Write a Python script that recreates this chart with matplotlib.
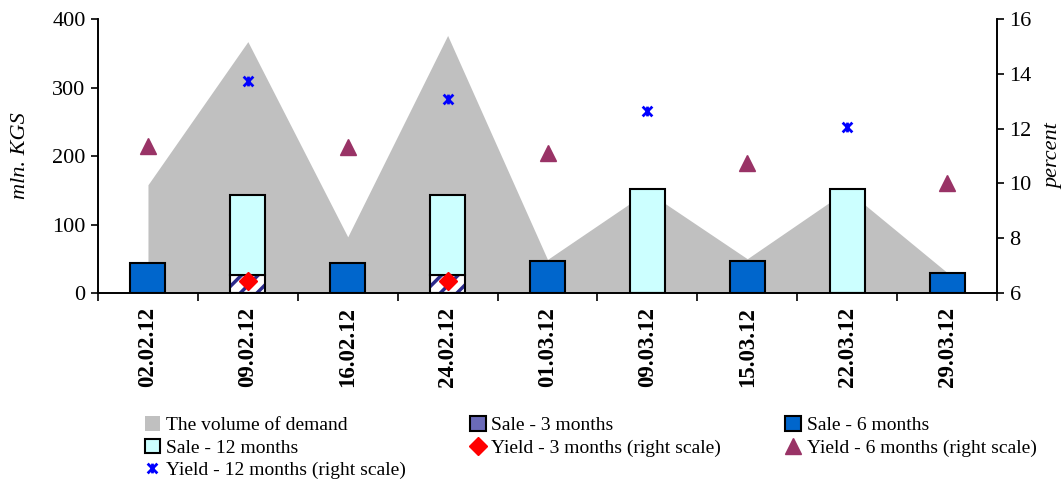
import numpy as np
import matplotlib
matplotlib.use("Agg")
import matplotlib.pyplot as plt
from matplotlib.patches import Patch
from matplotlib.lines import Line2D
from matplotlib.path import Path

plt.rcParams['font.family'] = ['Liberation Serif', 'DejaVu Serif']
plt.rcParams['hatch.linewidth'] = 2.5

dates = ["02.02.12", "09.02.12", "16.02.12", "24.02.12", "01.03.12",
         "09.03.12", "15.03.12", "22.03.12", "29.03.12"]
demand = [158, 367, 82, 376, 49, 148, 50, 150, 30]
sale_3m = [0, 26, 0, 26, 0, 0, 0, 0, 0]
sale_6m = [44, 0, 44, 0, 47, 0, 47, 0, 29]
sale_12m = [0, 117, 0, 117, 0, 152, 0, 152, 0]
yield_3m = [np.nan, 6.45, np.nan, 6.45, np.nan, np.nan, np.nan, np.nan, np.nan]
yield_6m = [11.38, np.nan, 11.33, np.nan, 11.1, np.nan, 10.73, np.nan, 10.0]
yield_12m = [np.nan, 13.74, np.nan, 13.08, np.nan, 12.64, np.nan, 12.06, np.nan]

x = np.arange(len(dates))
w = 0.35
c_demand = '#C0C0C0'
c_6m = '#0066CC'
c_12m = '#CCFFFF'
c_y6 = '#993366'
c_3m_hatch = '#2B2B8C'

star = Path([(-1, -1), (1, 1), (-1, 1), (1, -1), (0, -1), (0, 1)],
            [Path.MOVETO, Path.LINETO, Path.MOVETO, Path.LINETO, Path.MOVETO, Path.LINETO])

fig = plt.figure(figsize=(10.62, 4.79), dpi=100)
ax = fig.add_axes([0.0923, 0.3883, 0.8465, 0.572])
ax2 = ax.twinx()

# demand area
ax.fill_between(x, demand, 0, color=c_demand, lw=0, zorder=1)

# 3-month sales: hatched fill with outline
s3 = np.array(sale_3m, dtype=float)
ax.bar(x, s3, w, color='white', edgecolor=c_3m_hatch, hatch='//', lw=0, zorder=2)
ax.bar(x, s3, w, fill=False, edgecolor='black', lw=1.5, zorder=3)
# 12-month sales stacked on top
ax.bar(x, sale_12m, w, bottom=s3, color=c_12m, edgecolor='black', lw=1.5, zorder=3)
# 6-month sales
ax.bar(x, sale_6m, w, color=c_6m, edgecolor='black', lw=1.5, zorder=3)

ax.set_xlim(-0.5, len(dates) - 0.5)
ax.set_ylim(0, 400)
ax.set_yticks([0, 100, 200, 300, 400])
ax.set_xticks(x)
ax.set_xticklabels(dates, rotation=90, fontweight='bold', fontsize=16.5)
ax.set_xticks(np.arange(-0.5, len(dates), 1), minor=True)
ax.tick_params(axis='x', which='major', length=0, pad=10)
ax.tick_params(axis='x', which='minor', length=6, width=1.2, direction='out')
ax.tick_params(axis='y', length=5, width=1.2, labelsize=16, direction='out', pad=4)
ax.set_ylabel('mln. KGS', fontstyle='italic', fontsize=16, labelpad=16)
for s in ['top']:
    ax.spines[s].set_visible(False)
    ax2.spines[s].set_visible(False)
for s in ['left', 'bottom', 'right']:
    ax.spines[s].set_linewidth(1.2)
    ax2.spines[s].set_linewidth(1.2)

ax2.plot(x, yield_3m, ls='none', marker='D', ms=9, color='red', mec='red', zorder=5)
ax2.plot(x, yield_6m, ls='none', marker='^', ms=11, color=c_y6, mec=c_y6, zorder=5)
ax2.plot(x, yield_12m, ls='none', marker=star, ms=7, mew=2, color='#0000FF', zorder=5)
ax2.set_ylim(6, 16)
ax2.set_yticks([6, 8, 10, 12, 14, 16])
ax2.tick_params(axis='y', length=5, width=1.2, labelsize=16, direction='out', pad=4)
ax2.set_ylabel('percent', fontstyle='italic', fontsize=16, rotation=90, labelpad=9)
ax.set_zorder(ax2.get_zorder() - 1)
ax.patch.set_visible(True)
ax2.patch.set_visible(False)

handles = [
    Patch(facecolor=c_demand, edgecolor='none'),
    Patch(facecolor=c_12m, edgecolor='black', lw=1.5),
    Line2D([], [], ls='none', marker=star, ms=7, mew=2, color='#0000FF'),
    Patch(facecolor='#6A6AB8', edgecolor='black', lw=1.5),
    Line2D([], [], ls='none', marker='D', ms=9, color='red'),
    Patch(facecolor=c_6m, edgecolor='black', lw=1.5),
    Line2D([], [], ls='none', marker='^', ms=11, color=c_y6),
]
labels = [
    'The volume of demand', 'Sale - 12 months', 'Yield - 12 months (right scale)',
    'Sale - 3 months', 'Yield - 3 months (right scale)',
    'Sale - 6 months', 'Yield - 6 months (right scale)',
]
fig.legend(handles, labels, ncol=3, loc='lower left', bbox_to_anchor=(0.127, -0.021),
           frameon=False, fontsize=14, handlelength=0.8, handleheight=0.8,
           handletextpad=0.3, columnspacing=3.3, labelspacing=0.22, borderpad=0)

fig.savefig('out.png', dpi=100)
